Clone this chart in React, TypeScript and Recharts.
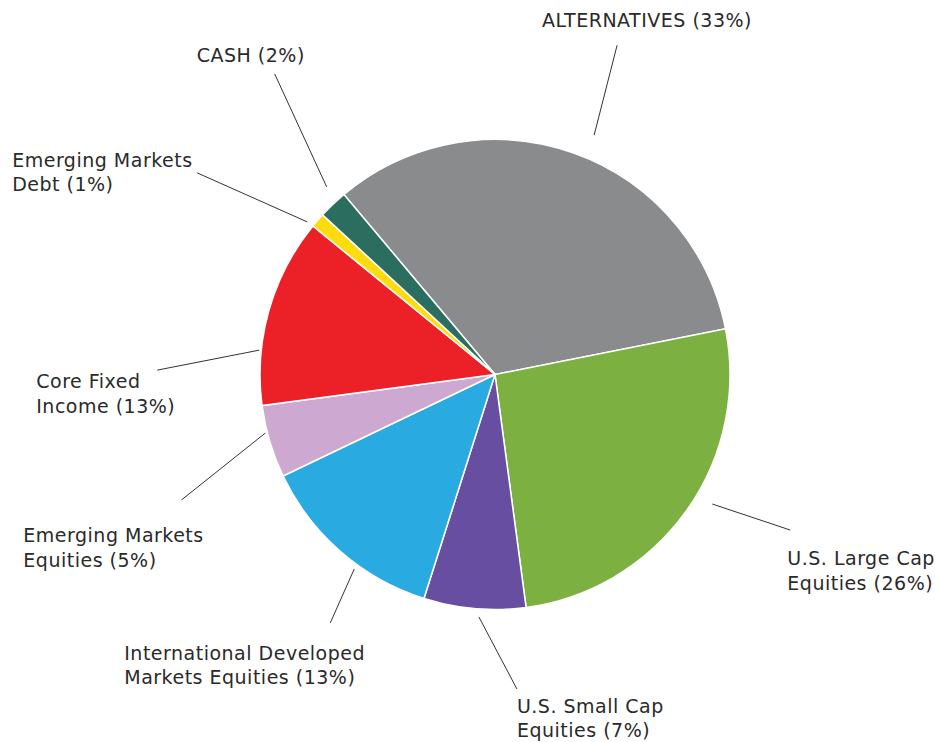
import React from "react";
import { PieChart, Pie, Cell } from "recharts";

const categories = [
  "ALTERNATIVES",
  "U.S. Large Cap Equities",
  "U.S. Small Cap Equities",
  "International Developed Markets Equities",
  "Emerging Markets Equities",
  "Core Fixed Income",
  "Emerging Markets Debt",
  "CASH",
];
const values = [33, 26, 7, 13, 5, 13, 1, 2];
const labelLines = [
  ["ALTERNATIVES (33%)"],
  ["U.S. Large Cap", "Equities (26%)"],
  ["U.S. Small Cap", "Equities (7%)"],
  ["International Developed", "Markets Equities (13%)"],
  ["Emerging Markets", "Equities (5%)"],
  ["Core Fixed", "Income (13%)"],
  ["Emerging Markets", "Debt (1%)"],
  ["CASH (2%)"],
];
const colors = ["#8A8B8D", "#7CB142", "#674EA1", "#29ABE2", "#CDA9D1", "#EC2027", "#FCDC0C", "#2B6E60"];

// label leader layout: gap beyond outer radius, angle adjust, leader vector, text offset from leader end
const labelLayout = [
  { gap: 24, da: -3.1, ldx: 23, ldy: -90, tdx: -75, tdy: -18 },
  { gap: 18, da: 4.8, ldx: 78, ldy: 26, tdx: -3, tdy: 35 },
  { gap: 8, da: 1.2, ldx: 38, ldy: 72, tdx: 0, tdy: 24 },
  { gap: 5, da: 5.1, ldx: -24, ldy: 54, tdx: -206, tdy: 37 },
  { gap: 2, da: -2.3, ldx: -84, ldy: 67, tdx: -158, tdy: 42 },
  { gap: 2, da: 9.9, ldx: -102, ldy: 20, tdx: -121, tdy: 18 },
  { gap: 7, da: 1.9, ldx: -110, ldy: -49, tdx: -185, tdy: -6 },
  { gap: 17, da: -1.7, ldx: -52, ldy: -113, tdx: -78, tdy: -12 },
];

const data = categories.map((name, i) => ({ name, value: values[i] }));

const RAD = Math.PI / 180;

const renderLabel = (props: any) => {
  const { cx, cy, midAngle, outerRadius, index } = props;
  const l = labelLayout[index];
  const a = (midAngle + l.da) * RAD;
  const r = outerRadius + l.gap;
  const sx = cx + r * Math.cos(a);
  const sy = cy - r * Math.sin(a);
  const ex = sx + l.ldx;
  const ey = sy + l.ldy;
  const tx = ex + l.tdx;
  const ty = ey + l.tdy;
  return (
    <g key={`lbl-${index}`}>
      <line x1={sx} y1={sy} x2={ex} y2={ey} stroke="#333" strokeWidth={1} />
      <text
        x={tx}
        y={ty}
        fill="#2a2a2a"
        fontSize={19}
        letterSpacing={0.5}
        fontFamily="'DejaVu Sans', sans-serif"
        textAnchor="start"
      >
        {labelLines[index].map((t, k) => (
          <tspan key={k} x={tx} dy={k === 0 ? 0 : 24.5}>
            {t}
          </tspan>
        ))}
      </text>
    </g>
  );
};

export default function App() {
  return (
    <div style={{ position: "absolute", left: 0, top: 0, background: "#fff" }}>
      <PieChart width={935} height={742} margin={{ top: 0, right: 0, bottom: 0, left: 0 }}>
        <Pie
          data={data}
          dataKey="value"
          nameKey="name"
          cx={495}
          cy={374.5}
          outerRadius={235}
          startAngle={130}
          endAngle={-230}
          stroke="#fff"
          strokeWidth={1.5}
          label={renderLabel}
          labelLine={false}
          isAnimationActive={false}
        >
          {data.map((d, i) => (
            <Cell key={d.name} fill={colors[i]} />
          ))}
        </Pie>
      </PieChart>
    </div>
  );
}
